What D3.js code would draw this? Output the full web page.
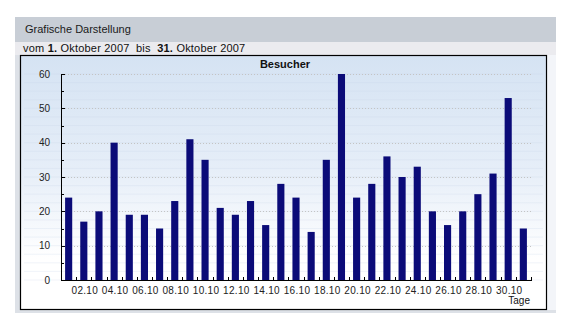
<!DOCTYPE html>
<html><head><meta charset="utf-8">
<script src="https://cdn.jsdelivr.net/npm/d3@7"></script>
<style>body{margin:0;background:#fff;}svg{display:block;font-family:"Liberation Sans",Arial,sans-serif;}</style>
</head><body>
<svg id="c" width="570" height="330"></svg>
<script>
const days = d3.range(1, 32).map(d => String(d).padStart(2, "0") + ".10");
const visitors = [24,17,20,40,19,19,15,23,41,35,21,19,23,16,28,24,14,35,60,24,28,36,30,33,20,16,20,25,31,53,15];
const yTicks = [0,10,20,30,40,50,60];
const xLabels = days.filter((d,i) => i % 2 === 1);
const title = "Besucher";
const xTitle = "Tage";

const svg = d3.select("#c");
const defs = svg.append("defs");
const g = defs.append("linearGradient").attr("id","bg").attr("x1",0).attr("y1",0).attr("x2",0).attr("y2",1);
g.append("stop").attr("offset","0%").attr("stop-color","#d5e3f3");
g.append("stop").attr("offset","45%").attr("stop-color","#e6eef8");
g.append("stop").attr("offset","80%").attr("stop-color","#ffffff");
g.append("stop").attr("offset","100%").attr("stop-color","#ffffff");

// outer frame
svg.append("rect").attr("x",15).attr("y",17).attr("width",541).attr("height",296).attr("fill","#dde1e7");
svg.append("rect").attr("x",15).attr("y",17).attr("width",541).attr("height",25).attr("fill","#c8ced6");
svg.append("rect").attr("x",15).attr("y",42).attr("width",541).attr("height",13).attr("fill","#ebebef");
svg.append("rect").attr("x",547).attr("y",55).attr("width",9).attr("height",255).attr("fill","#f3f5f9");
svg.append("text").attr("x",25).attr("y",33).attr("font-size",11).attr("fill","#1a1a1a").text("Grafische Darstellung");
const sub = svg.append("text").attr("x",23).attr("y",52).attr("font-size",11).attr("fill","#111")
  .style("white-space","pre").attr("letter-spacing",0.2);
sub.append("tspan").text("vom ");
sub.append("tspan").attr("font-weight","bold").text("1.");
sub.append("tspan").text(" Oktober 2007  bis  ");
sub.append("tspan").attr("font-weight","bold").text("31.");
sub.append("tspan").text(" Oktober 2007");

// chart box
svg.append("rect").attr("x",20.5).attr("y",55.5).attr("width",526).attr("height",254).attr("fill","url(#bg)").attr("stroke","#000").attr("stroke-width",1.2);

const x = d3.scaleBand().domain(days).range([61, 531]).paddingInner(0.53).paddingOuter(0.27);
const y = d3.scaleLinear().domain([0, 60]).range([280, 74]);

// faint texture grid
const tex = svg.append("g").attr("stroke","#c9d7ea").attr("stroke-width",0.5).attr("opacity",0.5);
d3.range(0, 61, 2.5).forEach(v => tex.append("line").attr("x1",24).attr("x2",543).attr("y1",y(v)).attr("y2",y(v)));

// gridlines
svg.append("g").selectAll("line").data(yTicks.slice(1)).join("line")
  .attr("x1",62).attr("x2",531).attr("y1",d=>Math.round(y(d))+0.5).attr("y2",d=>Math.round(y(d))+0.5)
  .attr("stroke","#c4c4c4").attr("stroke-dasharray","1,2").attr("stroke-width",1);

// bars
svg.append("g").selectAll("rect").data(visitors).join("rect")
  .attr("x",(d,i)=>x(days[i])).attr("width",x.bandwidth())
  .attr("y",d=>y(d)).attr("height",d=>y(0)-y(d))
  .attr("fill","#0b0b78");

// y axis
const ya = svg.append("g").attr("transform","translate(61,0)");
ya.append("line").attr("x1",0.5).attr("x2",0.5).attr("y1",y(60)).attr("y2",y(0)).attr("stroke","#000");
ya.selectAll("line.t").data(d3.range(0,61,5)).join("line").attr("class","t")
  .attr("x1",0).attr("x2",d=>d%10===0?4:3).attr("y1",d=>Math.round(y(d))+0.5).attr("y2",d=>Math.round(y(d))+0.5).attr("stroke","#000");
ya.selectAll("text").data(yTicks).join("text")
  .attr("x",-11).attr("y",d=>y(d)+3.5).attr("text-anchor","end").attr("font-size",10).attr("fill","#222").text(d=>d);

// x axis
const xa = svg.append("g");
xa.append("line").attr("x1",61).attr("x2",531).attr("y1",280.5).attr("y2",280.5).attr("stroke","#000");
const bounds = days.map(d => x(d) - x.step()*x.paddingInner()/2).concat([531]);
bounds[0] = 61;
xa.selectAll("line.t").data(bounds).join("line").attr("class","t")
  .attr("x1",d=>Math.round(d)+0.5).attr("x2",d=>Math.round(d)+0.5).attr("y1",277).attr("y2",281).attr("stroke","#000");
xa.selectAll("text").data(xLabels).join("text")
  .attr("x",d=>x(d)+x.bandwidth()/2+1).attr("y",294).attr("text-anchor","middle")
  .attr("font-size",10).attr("fill","#222").attr("letter-spacing",0.3).text(d=>d);

svg.append("text").attr("x",285).attr("y",68).attr("text-anchor","middle").attr("font-size",11).attr("font-weight","bold").attr("fill","#111").text(title);
svg.append("text").attr("x",530).attr("y",304).attr("text-anchor","end").attr("font-size",10).attr("fill","#111").text(xTitle);
</script>
</body></html>
